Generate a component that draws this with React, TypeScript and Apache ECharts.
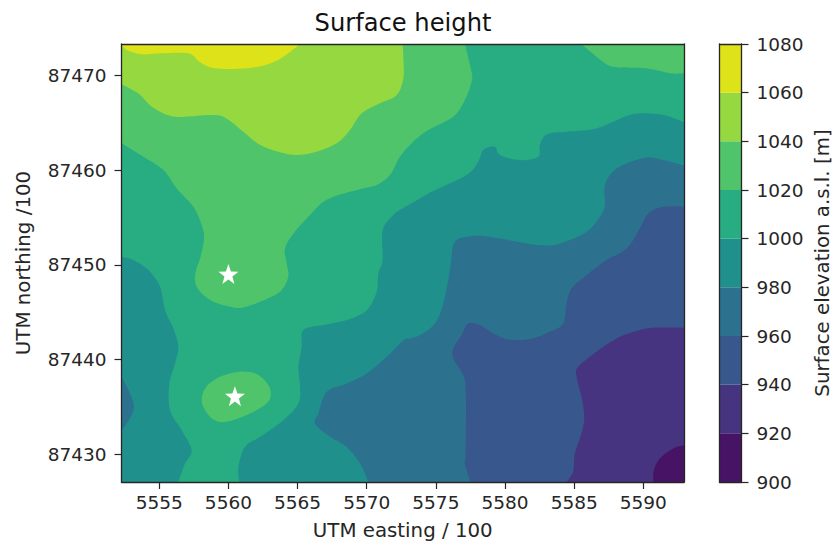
import React, { useEffect, useRef } from "react";
import * as echarts from "echarts";

// Axis limits and ticks
const xMin = 5552.27;
const xMax = 5592.94;
const yMin = 87427.07;
const yMax = 87473.35;
const xTicks = [5555, 5560, 5565, 5570, 5575, 5580, 5585, 5590];
const yTicks = [87430, 87440, 87450, 87460, 87470];
const levels = [900, 920, 940, 960, 980, 1000, 1020, 1040, 1060, 1080];
const bandColors = ["#471365", "#463480", "#38578c", "#2c728e", "#20908d", "#27ad81", "#4fc46a", "#95d840", "#dde318"];

// Sites marked with stars [easting, northing]
const sites = [[5560.0, 87449.04], [5560.47, 87436.14]];

// Contour outlines, area above each level [easting, northing]
const above900 = [[xMin, yMin], [xMax, yMin], [xMax, yMax], [xMin, yMax]];
const above920 = [
  [xMin, yMin], [5590.72, yMin], [5590.76, 87428.32], [5591.2, 87429.55], [5592.16, 87430.61], [xMax, 87430.96],
  [xMax, yMax], [xMin, yMax],
];
const above940 = [
  [xMin, yMin], [5584.45, yMin], [5584.93, 87428.14], [5585.05, 87430.08], [5585.53, 87432.19], [5585.73, 87433.96],
  [5585.53, 87436.07], [5585.17, 87438.19], [5585.29, 87439.24], [5586.62, 87440.83], [5588.07, 87442.24],
  [5589.75, 87443.12], [5590.72, 87443.37], [xMax, 87443.37], [xMax, yMax], [xMin, yMax],
];
const above960 = [
  [xMin, yMin], [5577.51, yMin], [5577.1, 87429.02], [5577.15, 87430.08], [5577.17, 87436.42], [5576.98, 87438.36],
  [5576.26, 87440.12], [5576.26, 87441.18], [5576.86, 87442.59], [5577.34, 87443.82], [5578.18, 87443.65],
  [5579.15, 87442.77], [5580.23, 87442.13], [5581.8, 87442.17], [5583.24, 87442.94], [5584.21, 87443.82],
  [5584.45, 87445.94], [5584.81, 87447.52], [5585.9, 87448.93], [5587.34, 87450.52], [5588.79, 87451.75],
  [5589.75, 87453.86], [5590.35, 87455.45], [5591.44, 87456.15], [xMax, 87456.15], [xMax, yMax], [xMin, yMax],
];
const above980 = [
  [xMin, yMin], [5570.12, yMin], [5569.52, 87429.02], [5568.55, 87430.78], [5567.35, 87431.84], [5566.26, 87433.25],
  [5566.5, 87434.31], [5567.11, 87436.6], [5568.55, 87437.48], [5570.0, 87438.54], [5571.44, 87440.3],
  [5572.65, 87442.06], [5573.12, 87442.24], [5573.85, 87442.59], [5574.93, 87443.82], [5575.53, 87445.94],
  [5576.02, 87449.46], [5576.26, 87452.1], [5576.86, 87452.87], [5578.18, 87453.09], [5579.63, 87452.8],
  [5582.52, 87452.1], [5583.97, 87452.27], [5585.9, 87453.51], [5586.86, 87455.09], [5587.22, 87456.33],
  [5587.22, 87458.44], [5588.07, 87460.2], [5590.11, 87461.33], [5591.44, 87461.08], [xMax, 87460.49],
  [xMax, yMax], [xMin, yMax], [xMin, 87438.19], [5553.18, 87435.01], [xMin, 87432.55],
];
const above1000 = [
  [xMin, 87450.87], [5553.13, 87450.52], [5554.21, 87449.46], [5555.06, 87447.7], [5555.42, 87445.23],
  [5556.02, 87443.3], [5556.38, 87441.36], [5556.14, 87439.6], [5555.73, 87437.48], [5555.78, 87434.66],
  [5556.62, 87432.55], [5557.34, 87430.43], [5556.86, 87429.02], [5556.38, yMin], [5560.79, yMin],
  [5560.72, 87428.67], [5561.2, 87430.78], [5562.29, 87431.84], [5563.97, 87433.6], [5565.06, 87435.37],
  [5565.18, 87437.13], [5565.06, 87439.24], [5565.3, 87441.36], [5565.42, 87443.12], [5566.86, 87443.65],
  [5568.55, 87444.18], [5570.0, 87445.23], [5570.72, 87447.17], [5570.84, 87449.11], [5571.15, 87450.52],
  [5571.15, 87453.68], [5571.93, 87455.27], [5572.4, 87455.8], [5573.85, 87457.03], [5574.81, 87457.81],
  [5577.22, 87459.5], [5578.06, 87460.91], [5578.43, 87462.14], [5579.27, 87462.49], [5579.63, 87461.61],
  [5581.08, 87461.08], [5582.4, 87461.44], [5582.52, 87462.67], [5583.0, 87463.8], [5584.45, 87464.08],
  [5586.38, 87464.33], [5587.82, 87465.14], [5589.27, 87465.95], [5590.96, 87465.95], [5591.92, 87465.67],
  [xMax, 87465.07], [xMax, yMax], [xMin, yMax],
];
const above1020Main = [
  [xMin, 87462.85], [5553.85, 87461.44], [5555.3, 87460.03], [5556.26, 87458.09], [5557.47, 87456.15],
  [5558.07, 87454.21], [5558.24, 87452.8], [5557.95, 87450.69], [5557.66, 87449.46], [5557.59, 87448.23],
  [5557.95, 87447.17], [5558.91, 87446.11], [5560.36, 87445.52], [5561.08, 87445.52], [5562.29, 87446.11],
  [5563.73, 87447.17], [5564.33, 87448.76], [5564.21, 87450.17], [5564.09, 87451.75], [5564.7, 87453.33],
  [5565.9, 87455.27], [5566.87, 87456.68], [5568.07, 87457.45], [5569.76, 87458.09], [5570.72, 87458.44],
  [5571.68, 87459.5], [5572.4, 87461.44], [5573.36, 87463.02], [5574.45, 87464.26], [5576.26, 87465.67],
  [5577.1, 87467.43], [5577.58, 87469.37], [5577.58, 87470.42], [5577.1, yMax], [xMin, yMax],
];
const above1020Corner = [
  [5585.53, yMax], [5586.62, 87472.01], [5587.82, 87470.95], [5590.23, 87470.78], [5591.92, 87470.25],
  [xMax, 87470.25], [xMax, yMax],
];
const above1020Island = [
  [5558.07, 87435.72], [5558.31, 87436.95], [5559.15, 87438.01], [5560.72, 87438.71], [5562.04, 87438.47],
  [5562.89, 87437.3], [5563.06, 87436.25], [5562.77, 87435.37], [5561.56, 87434.31], [5559.88, 87433.43],
  [5558.91, 87433.68], [5558.31, 87434.66],
];
const above1040 = [
  [xMin, yMax], [xMin, 87469.08], [5553.49, 87468.13], [5554.57, 87466.62], [5556.14, 87465.67], [5558.67, 87465.84],
  [5559.76, 87465.56], [5561.08, 87464.08], [5562.29, 87462.67], [5563.73, 87461.9], [5564.94, 87461.61],
  [5566.38, 87461.97], [5567.83, 87462.85], [5568.79, 87464.26], [5569.64, 87466.02], [5570.96, 87467.08],
  [5572.17, 87467.96], [5572.65, 87469.72], [5572.65, 87471.83], [5572.6, yMax],
];
const above1060 = [
  [xMin, yMax], [5552.65, 87472.71], [5553.73, 87472.26], [5555.18, 87472.36], [5557.1, 87472.36], [5557.95, 87471.41],
  [5559.03, 87470.78], [5561.32, 87470.78], [5563.01, 87471.3], [5564.09, 87472.12], [5565.18, yMax],
];

const regions = [
  { band: 0, outline: above900 },
  { band: 1, outline: above920 },
  { band: 2, outline: above940 },
  { band: 3, outline: above960 },
  { band: 4, outline: above980 },
  { band: 5, outline: above1000 },
  { band: 6, outline: above1020Main },
  { band: 6, outline: above1020Corner },
  { band: 6, outline: above1020Island },
  { band: 7, outline: above1040 },
  { band: 8, outline: above1060 },
];

const STAR = "path://M50,0 L62,34 L98,35 L69,57 L79,92 L50,71 L21,92 L31,57 L2,35 L38,34 Z";
const FONT = "DejaVu Sans";
const INK = "#262626";

// Closed curve through the outline; vertices on the frame stay sharp
function outlinePath(outline: number[][], coord: (p: number[]) => number[]) {
  const n = outline.length;
  const sharp = outline.map(([x, y]) => x === xMin || x === xMax || y === yMin || y === yMax);
  const pts = outline.map(coord);
  let d = `M${pts[0][0]},${pts[0][1]}`;
  for (let i = 0; i < n; i++) {
    const i1 = (i + 1) % n;
    const p0 = pts[(i - 1 + n) % n], p1 = pts[i], p2 = pts[i1], p3 = pts[(i + 2) % n];
    const c1 = sharp[i] ? p1 : [p1[0] + (p2[0] - p0[0]) / 6, p1[1] + (p2[1] - p0[1]) / 6];
    const c2 = sharp[i1] ? p2 : [p2[0] - (p3[0] - p1[0]) / 6, p2[1] - (p3[1] - p1[1]) / 6];
    d += `C${c1[0]},${c1[1]},${c2[0]},${c2[1]},${p2[0]},${p2[1]}`;
  }
  return d + "Z";
}

export default function App() {
  const ref = useRef<HTMLDivElement>(null);
  useEffect(() => {
    const chart = echarts.init(ref.current!, null, { renderer: "svg" });
    const line = { show: true, onZero: false, lineStyle: { color: INK, width: 1.3 } };
    const tick = { show: true, length: 7, lineStyle: { color: INK, width: 1.2 } };
    const plain = (v: number) => String(v);
    const label = { color: INK, fontFamily: FONT, fontSize: 18.5, formatter: plain };
    const name = { color: INK, fontFamily: FONT, fontSize: 19.8 };
    const frame = { axisLine: line, axisTick: { show: false }, axisLabel: { show: false }, splitLine: { show: false }, z: 5 };
    chart.setOption({
      animation: false,
      backgroundColor: "#fff",
      title: {
        text: "Surface height",
        left: 398,
        top: 6,
        textAlign: "center",
        textStyle: { color: "#111", fontFamily: FONT, fontSize: 24.2, fontWeight: "normal" },
      },
      grid: [
        { left: 121.5, top: 44, width: 562.5, height: 438, outerBoundsMode: "none" },
        { left: 719.5, top: 44, width: 22, height: 438, outerBoundsMode: "none" },
      ],
      xAxis: [
        {
          type: "value", gridIndex: 0, position: "bottom", min: xMin, max: xMax, z: 5,
          name: "UTM easting / 100", nameLocation: "middle", nameGap: 38, nameTextStyle: name,
          axisLine: line, axisTick: { ...tick, customValues: xTicks },
          axisLabel: { ...label, margin: 10.5, customValues: xTicks }, splitLine: { show: false },
        },
        { type: "value", gridIndex: 0, position: "top", min: xMin, max: xMax, ...frame },
        { type: "value", gridIndex: 1, position: "bottom", min: 0, max: 1, ...frame },
        { type: "value", gridIndex: 1, position: "top", min: 0, max: 1, ...frame },
      ],
      yAxis: [
        {
          type: "value", gridIndex: 0, position: "left", min: yMin, max: yMax, z: 5,
          name: "UTM northing /100", nameLocation: "middle", nameGap: 88, nameTextStyle: name,
          axisLine: line, axisTick: { ...tick, customValues: yTicks },
          axisLabel: { ...label, margin: 15, customValues: yTicks }, splitLine: { show: false },
        },
        { type: "value", gridIndex: 0, position: "right", min: yMin, max: yMax, ...frame },
        { type: "value", gridIndex: 1, position: "left", min: 900, max: 1080, interval: 20, ...frame },
        {
          type: "value", gridIndex: 1, position: "right", min: 900, max: 1080, interval: 20, z: 5,
          name: "Surface elevation a.s.l. [m]", nameLocation: "middle", nameGap: 71, nameRotate: 90, nameTextStyle: name,
          axisLine: line, axisTick: tick, axisLabel: { ...label, margin: 15 }, splitLine: { show: false },
        },
      ],
      series: [
        {
          type: "custom",
          xAxisIndex: 0,
          yAxisIndex: 0,
          clip: true,
          z: 2,
          data: regions.map((r, i) => [i, r.band]),
          renderItem: (params: any, api: any) => {
            const r = regions[params.dataIndex];
            return {
              type: "path",
              shape: { pathData: outlinePath(r.outline, (p) => api.coord(p)) },
              style: { fill: bandColors[r.band], stroke: null },
            };
          },
        },
        {
          type: "scatter",
          xAxisIndex: 0,
          yAxisIndex: 0,
          z: 3,
          symbol: STAR,
          symbolSize: 20,
          itemStyle: { color: "#fff", opacity: 1 },
          data: sites,
        },
        {
          type: "custom",
          xAxisIndex: 2,
          yAxisIndex: 2,
          clip: true,
          z: 2,
          data: bandColors.map((_, i) => [levels[i], levels[i + 1]]),
          renderItem: (params: any, api: any) => {
            const a = api.coord([0, api.value(1)]);
            const b = api.coord([1, api.value(0)]);
            return {
              type: "rect",
              shape: { x: a[0], y: a[1], width: b[0] - a[0], height: b[1] - a[1] },
              style: { fill: bandColors[params.dataIndex], stroke: null },
            };
          },
        },
      ],
    });
    return () => chart.dispose();
  }, []);
  return <div ref={ref} style={{ position: "absolute", left: 0, top: 0, width: 835, height: 546 }} />;
}
